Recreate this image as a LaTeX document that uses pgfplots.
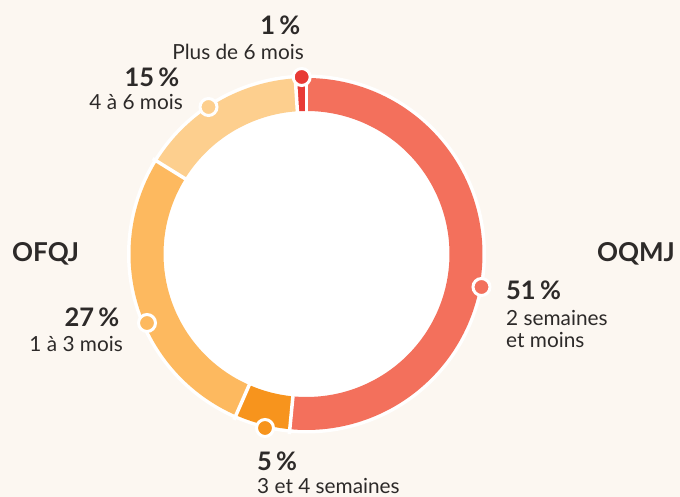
\documentclass[border=0pt]{standalone}
\usepackage{pgfplots}
\pgfplotsset{compat=1.18}
\usepackage{fontspec}
\setmainfont{Lato}
\definecolor{bg}{HTML}{FCF7F1}
\definecolor{cA}{HTML}{F3705C}
\definecolor{cB}{HTML}{F7941D}
\definecolor{cC}{HTML}{FDB95F}
\definecolor{cD}{HTML}{FDCF8E}
\definecolor{cE}{HTML}{E83A35}
\definecolor{txt}{HTML}{2D2A29}
% shares (percent), clockwise from top
\def\vA{51}\def\vB{5}\def\vC{27}\def\vD{15}\def\vE{1}
\pgfmathsetmacro\total{\vA+\vB+\vC+\vD+\vE}
\pgfmathsetmacro\aA{0}
\pgfmathsetmacro\aB{\aA+\vA/\total*360}
\pgfmathsetmacro\aC{\aB+\vB/\total*360}
\pgfmathsetmacro\aD{\aC+\vC/\total*360}
\pgfmathsetmacro\aE{\aD+\vD/\total*360}
\pgfmathsetmacro\aF{360}
\newcommand\pct[1]{{\fontsize{25.5}{30}\selectfont\bfseries #1}}
\newcommand\org[1]{{\fontsize{26}{30}\selectfont\bfseries #1}}
\newcommand\sub[1]{{\fontsize{20.8}{24}\selectfont #1}}
\begin{document}
\begin{tikzpicture}
\begin{axis}[
  x=1pt, y=1pt, hide axis, scale only axis,
  xmin=-306.5, xmax=373.5, ymin=-243, ymax=254,
  clip=true,
]
\fill[bg] (rel axis cs:0,0) rectangle (rel axis cs:1,1);
% white backing disk (outline + hole)
\addplot[fill=white, draw=none, domain=0:360, samples=181] ({179.5*sin(x)},{179.5*cos(x)}) -- cycle;
% ring segments
\def\R{159.5}
\addplot[cA, line width=33pt, domain=\aA:\aB, samples=120] ({\R*sin(x)},{\R*cos(x)});
\addplot[cB, line width=33pt, domain=\aB:\aC, samples=30] ({\R*sin(x)},{\R*cos(x)});
\addplot[cC, line width=33pt, domain=\aC:\aD, samples=80] ({\R*sin(x)},{\R*cos(x)});
\addplot[cD, line width=33pt, domain=\aD:\aE, samples=50] ({\R*sin(x)},{\R*cos(x)});
\addplot[cE, line width=33pt, domain=\aE:\aF, samples=10] ({\R*sin(x)},{\R*cos(x)});
% gaps
\foreach \g in {\aA,\aB,\aC,\aD,\aE}{
  \addplot[white, line width=3.5pt, domain=138:181, samples=2] ({x*sin(\g)},{x*cos(\g)});
}
% markers
\addplot[only marks, mark=*, mark size=8.5pt, draw=white, line width=3pt, fill=cA] coordinates {(175,-33)};
\addplot[only marks, mark=*, mark size=8.5pt, draw=white, line width=3pt, fill=cB] coordinates {(-41.5,-174)};
\addplot[only marks, mark=*, mark size=8.5pt, draw=white, line width=3pt, fill=cC] coordinates {(-159.5,-69)};
\addplot[only marks, mark=*, mark size=8.5pt, draw=white, line width=3pt, fill=cD] coordinates {(-98,147)};
\addplot[only marks, mark=*, mark size=8.5pt, draw=white, line width=3pt, fill=cE] coordinates {(-4.8,177)};
% labels
\begin{scope}[every node/.style={inner sep=0pt, text=txt}]
\node[anchor=base east] at (axis cs:-6,219) {\pct{1\,\%}};
\node[anchor=base east] at (axis cs:-2.5,194) {\sub{Plus de 6 mois}};
\node[anchor=base east] at (axis cs:-127,167) {\pct{15\,\%}};
\node[anchor=base east] at (axis cs:-123.5,144) {\sub{4 à 6 mois}};
\node[anchor=base east] at (axis cs:-187,-73) {\pct{27\,\%}};
\node[anchor=base east] at (axis cs:-183.5,-98) {\sub{1 à 3 mois}};
\node[anchor=base west] at (axis cs:199.5,-46) {\pct{51\,\%}};
\node[anchor=base west] at (axis cs:199.5,-72) {\sub{2 semaines}};
\node[anchor=base west] at (axis cs:199.5,-94) {\sub{et moins}};
\node[anchor=base west] at (axis cs:-49.5,-217) {\pct{5\,\%}};
\node[anchor=base west] at (axis cs:-49.5,-240) {\sub{3 et 4 semaines}};
\node[anchor=base west] at (axis cs:-294.5,-8) {\org{OFQJ}};
\node[anchor=base east] at (axis cs:368.5,-8) {\org{OQMJ}};
\end{scope}
\end{axis}
\end{tikzpicture}
\end{document}
